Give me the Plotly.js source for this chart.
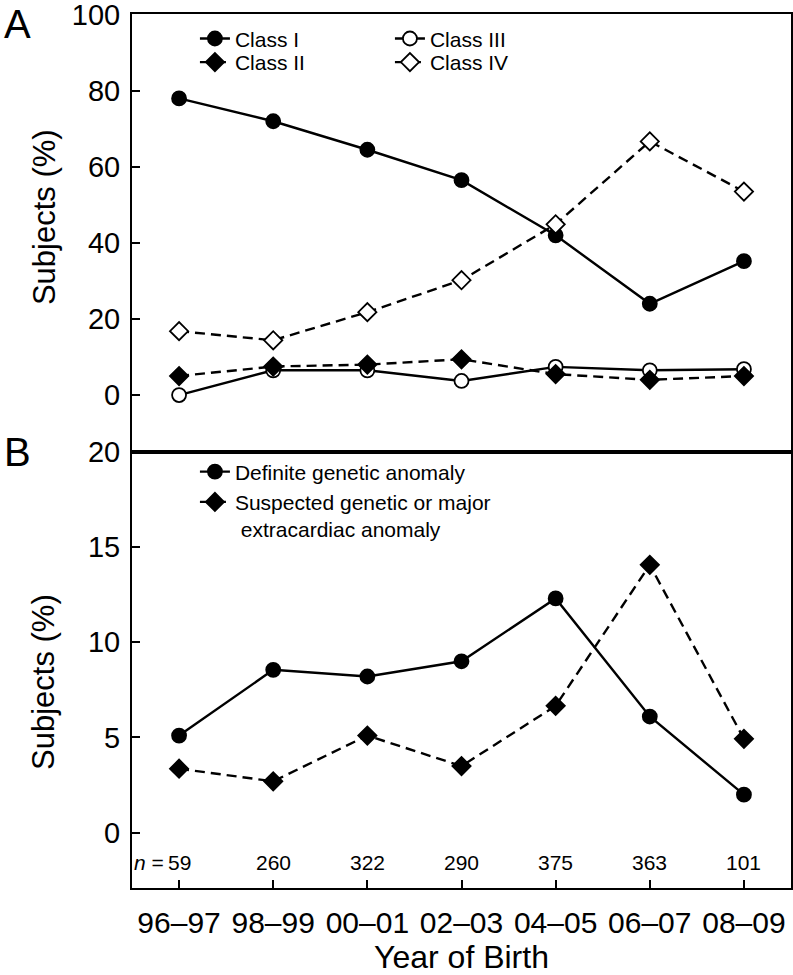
<!DOCTYPE html>
<html>
<head>
<meta charset="utf-8">
<script src="https://cdn.plot.ly/plotly-3.0.1.min.js"></script>
<style>
  body { margin: 0; background: #fff; }
  #chart { width: 793px; height: 975px; }
</style>
</head>
<body>
<div id="chart"></div>
<script>
// year of birth groups and number of subjects
const years = ["96\u201397", "98\u201399", "00\u201301", "02\u201303", "04\u201305", "06\u201307", "08\u201309"];
const nSubjects = [59, 260, 322, 290, 375, 363, 101];

// panel A: classes (%)
const classI = [78, 72, 64.5, 56.5, 42, 24, 35.2];
const classII = [5, 7.5, 8, 9.4, 5.5, 4, 5];
const classIII = [0, 6.5, 6.5, 3.7, 7.4, 6.5, 6.8];
const classIV = [16.8, 14.4, 21.8, 30.2, 44.9, 66.7, 53.5];

// panel B: anomalies (%)
const definiteGenetic = [5.1, 8.55, 8.2, 9.0, 12.3, 6.1, 2.0];
const suspectedGenetic = [3.36, 2.7, 5.1, 3.5, 6.66, 14.06, 4.93];

const FONT = "'Liberation Sans', Arial, sans-serif";
const DASH = "10px,6px";

function series(y, name, symbol, filled, dashed, xa, ya, legend) {
  return {
    x: years, y: y, name: name, type: "scatter", mode: "lines+markers",
    xaxis: xa, yaxis: ya, legend: legend,
    line: { color: "#000", width: 2.4, dash: dashed ? DASH : "solid" },
    marker: {
      symbol: symbol, size: 14,
      color: filled ? "#000" : "#fff",
      line: { color: "#000", width: 1.8 }
    }
  };
}

const data = [
  series(classI, "Class I", "circle", true, false, "x", "y", "legend"),
  series(classIII, "Class III", "circle", false, false, "x", "y", "legend"),
  series(classII, "Class II", "diamond", true, true, "x", "y", "legend2"),
  series(classIV, "Class IV", "diamond", false, true, "x", "y", "legend2"),
  series(definiteGenetic, "Definite genetic anomaly", "circle", true, false, "x2", "y2", "legend3"),
  series(suspectedGenetic, "Suspected genetic or major<br> extracardiac anomaly", "diamond", true, true, "x2", "y2", "legend3")
];

// n = ... labels under panel B
const annotations = years.map(function (yr, i) {
  return {
    x: yr, y: -1.55, xref: "x2", yref: "y2", text: String(nSubjects[i]),
    showarrow: false, font: { family: FONT, size: 21, color: "#000" }
  };
});
annotations.push({
  x: years[0], y: -1.55, xref: "x2", yref: "y2", text: "<i>n</i> =",
  xanchor: "right", xshift: -13, showarrow: false,
  font: { family: FONT, size: 21, color: "#000" }
});
// panel letters
annotations.push({ x: -0.197, y: 1.016, xref: "paper", yref: "paper", text: "A", showarrow: false,
  xanchor: "left", yanchor: "top", font: { family: FONT, size: 40, color: "#000" } });
annotations.push({ x: -0.197, y: 0.4992, xref: "paper", yref: "paper", text: "B", showarrow: false,
  xanchor: "left", yanchor: "middle", font: { family: FONT, size: 40, color: "#000" } });
// y axis titles
annotations.push({ x: -0.1335, y: 0.7677, xref: "paper", yref: "paper", text: "Subjects (%)", showarrow: false,
  textangle: -90, xanchor: "center", yanchor: "middle", font: { family: FONT, size: 31, color: "#000" } });
annotations.push({ x: -0.1335, y: 0.2357, xref: "paper", yref: "paper", text: "Subjects (%)", showarrow: false,
  textangle: -90, xanchor: "center", yanchor: "middle", font: { family: FONT, size: 31, color: "#000" } });

const axisCommon = {
  showline: true, linecolor: "#000", linewidth: 2, mirror: true,
  showgrid: false, zeroline: false, ticks: "inside", ticklen: 8, tickwidth: 2, tickcolor: "#000"
};

const legendFont = { family: FONT, size: 21, color: "#000" };

const layout = {
  width: 793, height: 975,
  margin: { l: 132, r: 2, t: 14, b: 87 },
  paper_bgcolor: "#fff", plot_bgcolor: "#fff",
  font: { family: FONT, color: "#000" },
  showlegend: true,
  xaxis: Object.assign({}, axisCommon, {
    domain: [0, 1], anchor: "y", type: "category", range: [-0.5, 6.5],
    ticks: "", showticklabels: false
  }),
  yaxis: Object.assign({}, axisCommon, {
    domain: [0.4992, 1], anchor: "x", range: [-14.9, 100.2], tickvals: [0, 20, 40, 60, 80, 100],
    tickfont: { family: FONT, size: 29 }, ticklabelstandoff: 4, ticklabeloverflow: "allow"
  }),
  xaxis2: Object.assign({}, axisCommon, {
    domain: [0, 1], anchor: "y2", type: "category", range: [-0.5, 6.5],
    tickangle: 0, tickfont: { family: FONT, size: 30 }, ticklabelstandoff: 7,
    title: { text: "Year of Birth", font: { family: FONT, size: 32 }, standoff: 16 }
  }),
  yaxis2: Object.assign({}, axisCommon, {
    domain: [0, 0.4992], anchor: "x2", range: [-2.9, 20], tickvals: [0, 5, 10, 15, 20],
    tickfont: { family: FONT, size: 29 }, ticklabelstandoff: 4, ticklabeloverflow: "allow"
  }),
  legend: {
    orientation: "h", x: 0.0955, y: 0.995, xanchor: "left", yanchor: "top",
    entrywidth: 150, entrywidthmode: "pixels", bgcolor: "rgba(0,0,0,0)",
    font: legendFont
  },
  legend2: {
    orientation: "h", x: 0.0955, y: 0.968, xanchor: "left", yanchor: "top",
    entrywidth: 150, entrywidthmode: "pixels", bgcolor: "rgba(0,0,0,0)",
    font: legendFont
  },
  legend3: {
    orientation: "v", x: 0.0955, y: 0.4995, xanchor: "left", yanchor: "top", valign: "top",
    bgcolor: "rgba(0,0,0,0)", tracegroupgap: 0,
    font: legendFont
  },
  annotations: annotations
};

Plotly.newPlot("chart", data, layout, { displayModeBar: false, staticPlot: true });
</script>
</body>
</html>
